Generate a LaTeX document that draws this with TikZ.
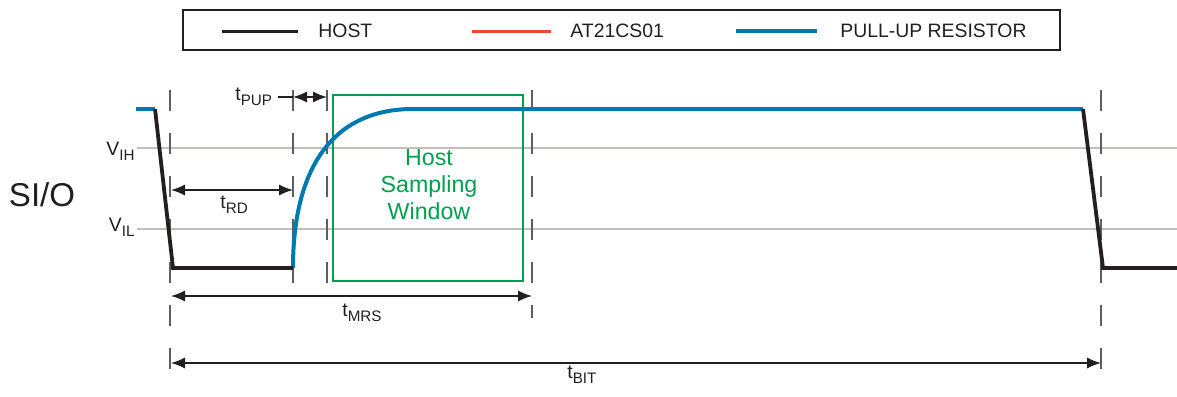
\documentclass[tikz,border=0pt]{standalone}
\usepackage{fontspec}
\setmainfont{Liberation Sans}
\usetikzlibrary{arrows.meta}
\definecolor{hostblack}{HTML}{231F20}
\definecolor{pullblue}{HTML}{0079B1}
\definecolor{atred}{HTML}{EE4630}
\definecolor{wingreen}{HTML}{00A04F}
\definecolor{levelgray}{HTML}{C4BDB9}
\definecolor{markgray}{HTML}{5E5E5E}
\newcommand{\lowsub}[1]{\raisebox{-0.28em}{\fontsize{7.6}{8}\selectfont #1}}
\tikzstyle{hostline} = [hostblack,line width=1.9pt]
\tikzstyle{pullline} = [pullblue,line width=2pt]
\tikzstyle{levelline} = [levelgray,line width=0.6pt]
\tikzstyle{markline} = [markgray,line width=0.7pt,dash pattern=on 10.5pt off 11pt]
\tikzstyle{thinline} = [hostblack,line width=0.7pt]
\tikzstyle{dimarrow} = [thinline,{Latex[length=7pt,width=5.5pt]}-{Latex[length=7pt,width=5.5pt]}]
\tikzstyle{winbox} = [wingreen,line width=0.7pt]
\tikzstyle{lbl} = [font=\fontsize{9.7}{11}\selectfont,inner sep=0pt,text=hostblack]

\begin{document}
\begin{tikzpicture}[x=0.5pt,y=-0.5pt]
\useasboundingbox (0,0) rectangle (1177,396);

% legend
\draw[thinline,line width=0.6pt] (183,10) rectangle (1060,50);
\coordinate (lh1) at (222,31);
\coordinate (lh2) at (298,31);
\coordinate (la1) at (472,31);
\coordinate (la2) at (551,31);
\coordinate (lp1) at (736,31);
\coordinate (lp2) at (817,31);
\node (lhost) [lbl,anchor=west] at (318,31) {HOST};
\node (lat)   [lbl,anchor=west] at (570,31) {AT21CS01};
\node (lpull) [lbl,anchor=west] at (840,31) {PULL-UP RESISTOR};
\draw[hostline,line width=1.5pt] (lh1) -- (lh2);
\draw[atred,line width=1.5pt] (la1) -- (la2);
\draw[pullline] (lp1) -- (lp2);

% levels
\node (sio) [lbl,font=\fontsize{16.5}{18}\selectfont] at (42,195) {SI/O};
\node (vih) [lbl,anchor=base east] at (135,155) {V\lowsub{IH}};
\node (vil) [lbl,anchor=base east] at (135,231) {V\lowsub{IL}};
\coordinate (vihe) at (1177,148);
\coordinate (vile) at (1177,229);
\draw[levelline] ([xshift=1pt]vih.east |- vihe) -- (vihe);
\draw[levelline] ([xshift=1pt]vil.east |- vile) -- (vile);

% markers
\coordinate (m1a) at (170,90);  \coordinate (m1b) at (170,376);
\coordinate (m2a) at (293,90);  \coordinate (m2b) at (293,286);
\coordinate (m3a) at (327,90);  \coordinate (m3b) at (327,290);
\coordinate (m4a) at (532,90);  \coordinate (m4b) at (532,318);
\coordinate (m5a) at (1101,90); \coordinate (m5b) at (1101,380);
\draw[markline] (m1a) -- (m1b);
\draw[markline] (m2a) -- (m2b);
\draw[markline] (m3a) -- (m3b);
\draw[markline] (m4a) -- (m4b);
\draw[markline] (m5a) -- (m5b);

% sampling window
\draw[winbox] (333,95) rectangle (523,281);
\node (win) [lbl,text=wingreen,align=center,font=\fontsize{11.6}{13.5}\selectfont] at (429,185) {Host\\Sampling\\Window};

% waveform
\coordinate (s0) at (136,109);
\coordinate (s1) at (155,109);
\coordinate (s2) at (173,268);
\coordinate (s3) at (293,268);
\coordinate (s4) at (413,109);
\coordinate (s5) at (1083,109);
\coordinate (s6) at (1103,268);
\coordinate (s7) at (1177,268);
\draw[pullline] (s0) -- (s1);
\draw[pullline] (s3) .. controls (293,165) and (335,109) .. (s4) -- (s5);
\draw[hostline] (s1) -- (s2) -- (s3);
\draw[hostline] (s5) -- (s6) -- (s7);

% timings
\node (tpup) [lbl,anchor=base west] at (235,100) {t\lowsub{PUP}};
\coordinate (pup0) at (278,97);
\coordinate (pup1) at (293,97);
\coordinate (pup2) at (327,97);
\draw[thinline] (pup0) -- (pup1);
\draw[dimarrow] (pup1) -- (pup2);

\node (trd) [lbl,anchor=base west] at (220,208) {t\lowsub{RD}};
\coordinate (rd1) at (171,190);
\coordinate (rd2) at (293,190);
\draw[dimarrow] (rd1) -- (rd2);

\node (tmrs) [lbl,anchor=base west] at (342,316) {t\lowsub{MRS}};
\coordinate (mrs1) at (171,296);
\coordinate (mrs2) at (532,296);
\draw[dimarrow] (mrs1) -- (mrs2);

\node (tbit) [lbl,anchor=base west] at (567,378) {t\lowsub{BIT}};
\coordinate (bit1) at (171,363);
\coordinate (bit2) at (1101,363);
\draw[dimarrow] (bit1) -- (bit2);
\end{tikzpicture}
\end{document}
